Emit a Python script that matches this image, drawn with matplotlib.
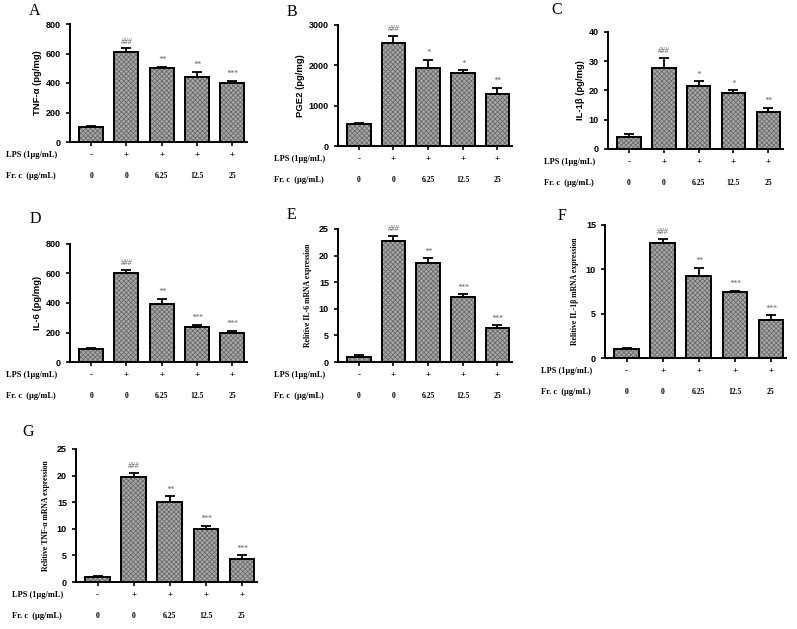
import matplotlib
matplotlib.use("Agg")
import matplotlib.pyplot as plt

W, H = 797, 629

lps = ["-", "+", "+", "+", "+"]
frc = ["0", "0", "6.25", "12.5", "25"]

letters = ["A", "B", "C", "D", "E", "F", "G"]
ylabels = ["TNF-α (pg/mg)", "PGE2 (pg/mg)", "IL-1β (pg/mg)", "IL-6 (pg/mg)",
           "Relitive IL-6 mRNA expression", "Relitive IL-1β mRNA expression",
           "Relitive TNF-α mRNA expression"]

tnf_mean = [100, 610, 500, 440, 400]
tnf_err = [10, 25, 8, 35, 15]
pge2_mean = [540, 2550, 1930, 1800, 1280]
pge2_err = [30, 180, 200, 80, 170]
il1b_mean = [4.0, 27.6, 21.6, 19.0, 12.6]
il1b_err = [1.0, 3.5, 1.5, 1.0, 1.5]
il6_mean = [88, 600, 395, 238, 197]
il6_err = [8, 25, 35, 12, 15]
il6_mrna = [1.0, 22.8, 18.7, 12.2, 6.3]
il6_mrna_err = [0.3, 0.9, 0.8, 0.5, 0.6]
il1b_mrna = [1.0, 13.0, 9.2, 7.4, 4.3]
il1b_mrna_err = [0.15, 0.4, 1.0, 0.2, 0.5]
tnf_mrna = [1.0, 19.7, 15.0, 9.9, 4.4]
tnf_mrna_err = [0.2, 0.8, 1.1, 0.7, 0.6]

sig_a = ["", "###", "**", "**", "***"]
sig_b = ["", "###", "*", "*", "**"]
sig_c = ["", "###", "*", "*", "**"]
sig_rest = ["", "###", "**", "***", "***"]

panels = [
    (tnf_mean, tnf_err, sig_a, 800, 200),
    (pge2_mean, pge2_err, sig_b, 3000, 1000),
    (il1b_mean, il1b_err, sig_c, 40, 10),
    (il6_mean, il6_err, sig_rest, 800, 200),
    (il6_mrna, il6_mrna_err, sig_rest, 25, 5),
    (il1b_mrna, il1b_mrna_err, sig_rest, 15, 5),
    (tnf_mrna, tnf_mrna_err, sig_rest, 25, 5),
]

# axes boxes in pixels: left, right, top, bottom(zero line)
boxes = [(70, 247, 24, 142), (338, 512, 25, 146), (608, 783, 32, 149),
         (70, 247, 244, 362), (338, 512, 229, 362), (605, 786, 225, 358),
         (76, 257, 449, 582)]
letter_pos = [(35, 11), (292, 12), (557, 10), (35, 219), (291, 215),
              (562, 216), (28, 432)]

plt.rcParams['hatch.linewidth'] = 0.6
sans = "Liberation Sans"
serif = "Liberation Serif"

fig = plt.figure(figsize=(W / 100, H / 100), dpi=100)

for i, (mean, err, sig, ymax, step) in enumerate(panels):
    l, r, t, b = boxes[i]
    ax = fig.add_axes([l / W, 1 - b / H, (r - l) / W, (b - t) / H])
    x = list(range(len(mean)))
    # hatch fill, then black outline on top
    ax.bar(x, mean, width=0.68, color="#a8a8a8", edgecolor="#6a6a6a",
           hatch="xxxxxxx", linewidth=0, zorder=2)
    ax.bar(x, mean, width=0.68, fill=False, edgecolor="black",
           linewidth=1.4, zorder=3)
    ax.errorbar(x, mean, yerr=[[0] * len(err), err], fmt="none",
                ecolor="black", elinewidth=1.3, capsize=3.5, capthick=1.3,
                zorder=1)
    for xi, m, e, s in zip(x, mean, err, sig):
        if s:
            ax.annotate(s, (xi, m + e), xytext=(0, 2), textcoords="offset points",
                        ha="center", va="bottom", fontsize=5.5,
                        family=serif, style="italic", color="#555555")
    ax.set_xlim(-0.6, 4.42)
    ax.set_ylim(0, ymax)
    ax.set_yticks(range(0, ymax + 1, step))
    ax.set_xticks(x)
    ax.set_xticklabels([])
    ax.spines[['top', 'right']].set_visible(False)
    ax.spines[['left', 'bottom']].set_linewidth(1.4)
    ax.tick_params(axis="both", length=3, width=1.2, direction="out")
    for lab in ax.get_yticklabels():
        lab.set_fontfamily(sans)
        lab.set_fontweight("bold")
        lab.set_fontsize(6.5)
    if i < 4:
        ax.set_ylabel(ylabels[i], fontfamily=sans, fontweight="bold",
                      fontsize=6.8, labelpad=3)
    else:
        ax.set_ylabel(ylabels[i], fontfamily=serif, fontweight="bold",
                      fontsize=5.6, labelpad=5)

    # treatment rows under the axis
    for row_off, name, vals in [(13, "LPS (1μg/mL)", lps),
                                (34, "Fr. c  (μg/mL)", frc)]:
        yfig = 1 - (b + row_off) / H
        fig.text((l - 64) / W, yfig, name, ha="left", va="center",
                 fontsize=6, family=serif, fontweight="bold")
        for xi, v in zip(x, vals):
            xpix = ax.transData.transform((xi, 0))[0]
            fig.text(xpix / W, yfig, v, ha="center", va="center",
                     fontsize=6.5 if v in "-+" else 5.5, family=serif,
                     fontweight="bold")

    lx, ly = letter_pos[i]
    fig.text(lx / W, 1 - ly / H, letters[i], ha="center", va="center",
             fontsize=11.5, family=serif)

fig.savefig("out.png", dpi=100)
